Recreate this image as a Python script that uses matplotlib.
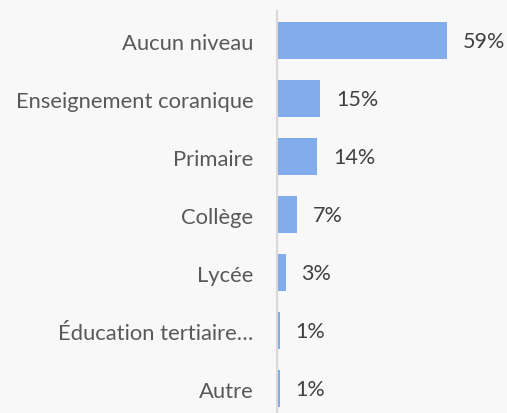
import numpy as np
import matplotlib
matplotlib.use('Agg')
import matplotlib.pyplot as plt

categories = ['Aucun niveau', 'Enseignement coranique', 'Primaire', 'Collège',
              'Lycée', 'Éducation tertiaire…', 'Autre']
values = [59, 15, 14, 7, 3, 1, 1]
value_labels = ['59%', '15%', '14%', '7%', '3%', '1%', '1%']

plt.rcParams['font.family'] = ['Lato', 'DejaVu Sans']

bg = '#f8f8f8'
fig = plt.figure(figsize=(5.07, 4.14), dpi=100, facecolor=bg)
ax = fig.add_axes([277 / 507, 0, 230 / 507, 402 / 414], facecolor=bg)

y = np.arange(len(categories))
ax.barh(y, values, height=0.64, color='#82aceb')

for yi, v, lab in zip(y, values, value_labels):
    ax.text(v + 5.5, yi, lab, va='center', ha='left', fontsize=15.5, color='#404040')

ax.set_xlim(0, 79.8)
ax.set_ylim(6.42, -0.509)
ax.set_yticks(y)
ax.set_yticklabels(categories, fontsize=15.8, color='#595959')
ax.tick_params(axis='y', length=0, pad=17)
ax.set_xticks([])

for s in ['top', 'right', 'bottom']:
    ax.spines[s].set_visible(False)
ax.spines['left'].set_color('#d9d9d9')
ax.spines['left'].set_linewidth(1.5)

fig.savefig('out.png', dpi=100, facecolor=bg)
